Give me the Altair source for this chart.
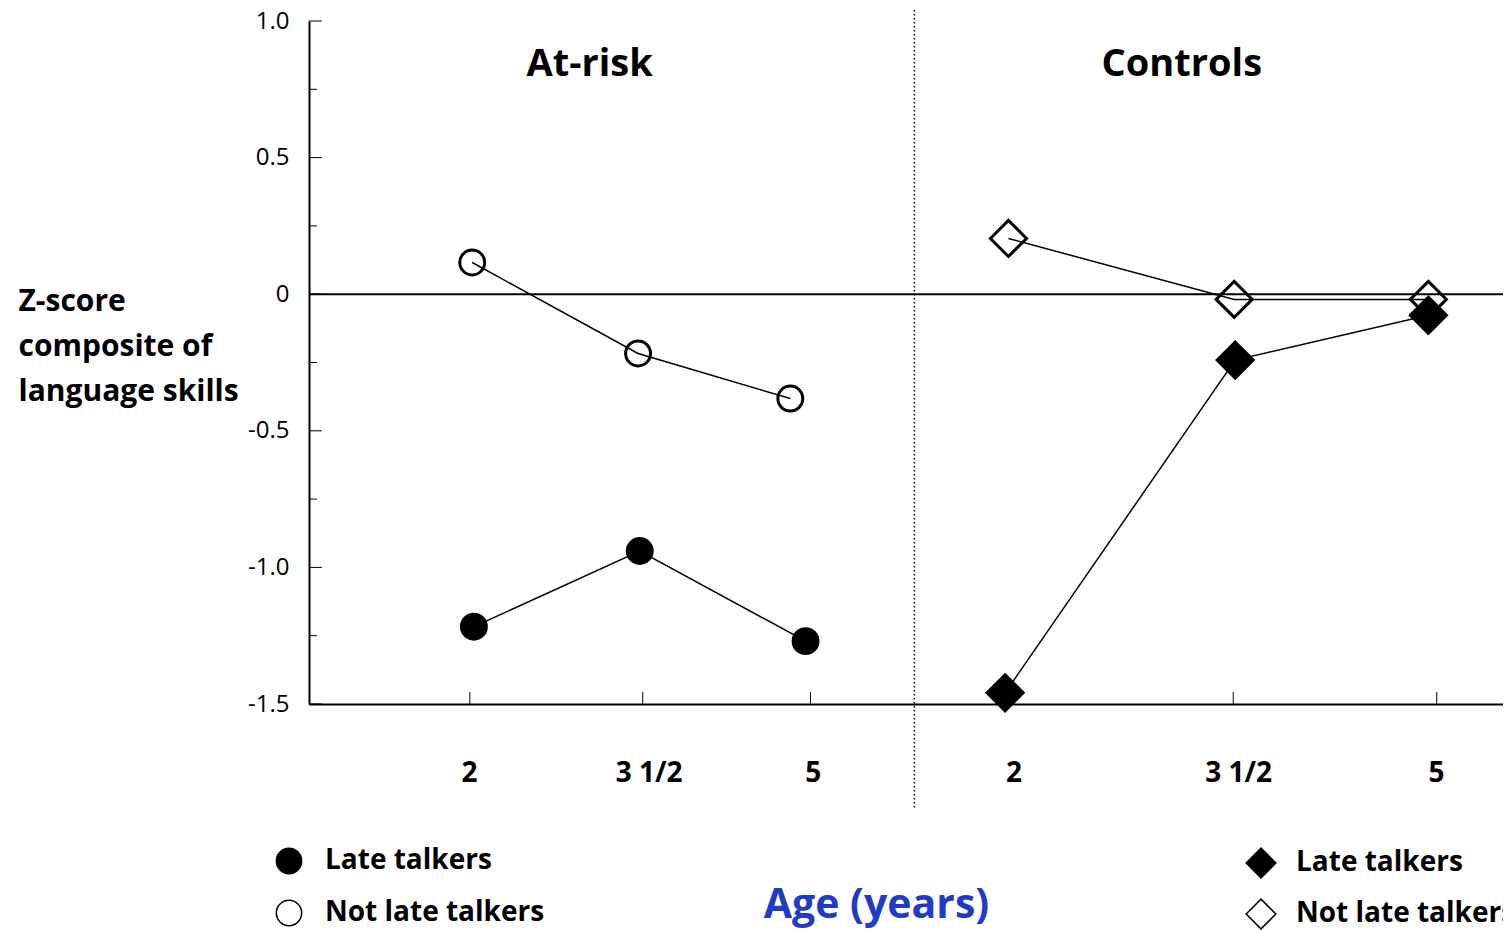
import json
import altair as alt
import pandas as pd

# ---- data ----
ages = ["2", "3 1/2", "5"]
groups = ["Late talkers", "Not late talkers"]

atrisk_late = [-1.217, -0.940, -1.270]
atrisk_not = [0.116, -0.217, -0.382]
controls_late = [-1.459, -0.241, -0.077]
controls_not = [0.204, -0.019, -0.019]

# horizontal slot positions (axis units 0-100) of each point
atrisk_late_x = [13.81, 27.70, 41.59]
atrisk_not_x = [13.67, 27.56, 40.31]
controls_late_x = [58.30, 77.57, 93.75]
controls_not_x = [58.58, 77.49, 93.75]

tick_x = [13.47, 27.95, 42.0, 58.5, 77.41, 94.45]
label_x = [13.39, 28.45, 42.18, 59.0, 77.82, 94.39]
tick_labels = ["2", "3 1/2", "5", "2", "3 1/2", "5"]

panel_titles = ["At-risk", "Controls"]
panel_x = [23.5, 73.1]
panel_z = [0.84, 0.84]

divider_x = [50.7]
zero_line = [0.0]
y_major = [1.0, 0.5, 0.0, -0.5, -1.0, -1.5]
y_minor = [0.75, 0.25, -0.25, -0.75, -1.25]

# ---- tables ----
def series(xs, zs, grp):
    return [{"x": x, "z": z, "age": a, "group": grp} for x, z, a in zip(xs, zs, ages)]

df_atrisk = pd.DataFrame(series(atrisk_late_x, atrisk_late, groups[0]) +
                         series(atrisk_not_x, atrisk_not, groups[1]))
df_controls = pd.DataFrame(series(controls_late_x, controls_late, groups[0]) +
                           series(controls_not_x, controls_not, groups[1]))
df_titles = pd.DataFrame({"x": panel_x, "z": panel_z, "t": panel_titles})
df_div = pd.DataFrame({"x": divider_x})
df_zero = pd.DataFrame({"z": zero_line})
df_ymaj = pd.DataFrame({"z": y_major})
df_ymin = pd.DataFrame({"z": y_minor})
df_xt = pd.DataFrame({"x": tick_x})

W, H = 1194, 683
FONT = "Open Sans"

label_expr = "%s[indexof(%s, datum.value)]" % (json.dumps(tick_labels), json.dumps(label_x))

x_enc = alt.X(
    "x:Q",
    scale=alt.Scale(domain=[0, 100], nice=False, zero=False),
    axis=alt.Axis(
        values=label_x, labelExpr=label_expr, ticks=False, grid=False,
        domainColor="black", domainWidth=2,
        labelFont=FONT, labelFontWeight="bold", labelFontSize=28, labelColor="black",
        labelBaseline="middle", labelPadding=69, labelFlush=False, labelOverlap=False,
        title="Age (years)", titleFont=FONT, titleFontWeight="bold", titleFontSize=41,
        titleColor="#1f3cc8", titleX=567, titleY=213, titleAlign="center",
        titleBaseline="alphabetic", titleAnchor="start",
    ),
)
y_enc = alt.Y(
    "z:Q",
    scale=alt.Scale(domain=[-1.5, 1.0], nice=False, zero=False),
    axis=alt.Axis(
        values=y_major,
        labelExpr="datum.value == 0 ? '0' : (datum.value < 0 ? '-' + format(-datum.value, '.1f') : format(datum.value, '.1f'))",
        ticks=False, grid=False, domainColor="black", domainWidth=2,
        labelFont=FONT, labelFontSize=24, labelColor="black", labelPadding=20,
        labelBaseline="middle",
        title=["Z-score", "composite of", "language skills"],
        titleFont=FONT, titleFontWeight="bold", titleFontSize=30, titleColor="black",
        titleAngle=0, titleAlign="left", titleBaseline="alphabetic",
        titleX=-291, titleY=289, titleLineHeight=45, titleAnchor="start",
    ),
)

zero = alt.Chart(df_zero).mark_rule(color="black", strokeWidth=2).encode(y=y_enc)
divider = alt.Chart(df_div).mark_rule(color="black", strokeWidth=1.5, strokeDash=[1.5, 2.5]).encode(
    x=x_enc, y=alt.value(-11), y2=alt.value(787))
ymaj = alt.Chart(df_ymaj).mark_rule(color="black", strokeWidth=1).encode(
    y=y_enc, x=alt.value(0), x2=alt.value(13))
ymin = alt.Chart(df_ymin).mark_rule(color="black", strokeWidth=1).encode(
    y=y_enc, x=alt.value(0), x2=alt.value(8))
xt = alt.Chart(df_xt).mark_rule(color="black", strokeWidth=1).encode(
    x=x_enc, y=alt.value(H - 12), y2=alt.value(H))
titles = alt.Chart(df_titles).mark_text(
    font=FONT, fontWeight="bold", fontSize=38, color="black", align="center", baseline="middle"
).encode(x=x_enc, y=y_enc, text="t:N")

def panel(df, shape, size, legend_x, sym_size, row_pad, label_off):
    leg = alt.Legend(
        title=None, orient="none", legendX=legend_x, legendY=826, padding=0,
        labelFont=FONT, labelFontWeight="bold", labelFontSize=28, labelColor="black",
        symbolSize=sym_size, symbolStrokeWidth=1.5, symbolStrokeColor="black",
        symbolOpacity=1, rowPadding=row_pad, labelOffset=label_off, labelLimit=400,
    )
    lines = alt.Chart(df).mark_line(color="black", strokeWidth=1.5).encode(
        x=x_enc, y=y_enc, detail="group:N", order="x:Q")
    pts = alt.Chart(df).mark_point(
        filled=False, strokeWidth=3, opacity=1, size=size
    ).encode(
        x=x_enc, y=y_enc,
        shape=alt.Shape("group:N", scale=alt.Scale(domain=groups, range=[shape, shape]), legend=leg),
        fill=alt.Fill("group:N", scale=alt.Scale(domain=groups, range=["black", "transparent"]), legend=leg),
        stroke=alt.Stroke("group:N", scale=alt.Scale(domain=groups, range=["black", "black"]), legend=leg),
    )
    return lines, pts

l1, p1 = panel(df_atrisk, "circle", 620, -34, 640, 20, 22)
l2, p2 = panel(df_controls, "diamond", 1300, 936, 880, 15, 19)

chart = alt.layer(
    zero, divider, ymaj, ymin, xt, titles, l1, l2, p1, p2
).resolve_scale(
    shape="independent", fill="independent", stroke="independent"
).properties(
    width=W, height=H,
    autosize=alt.AutoSizeParams(type="none"),
    padding={"left": 301, "top": 13, "right": 0, "bottom": 226},
).configure_view(stroke=None)

chart.save("out.html", embed_options={"renderer": "svg", "actions": False})
